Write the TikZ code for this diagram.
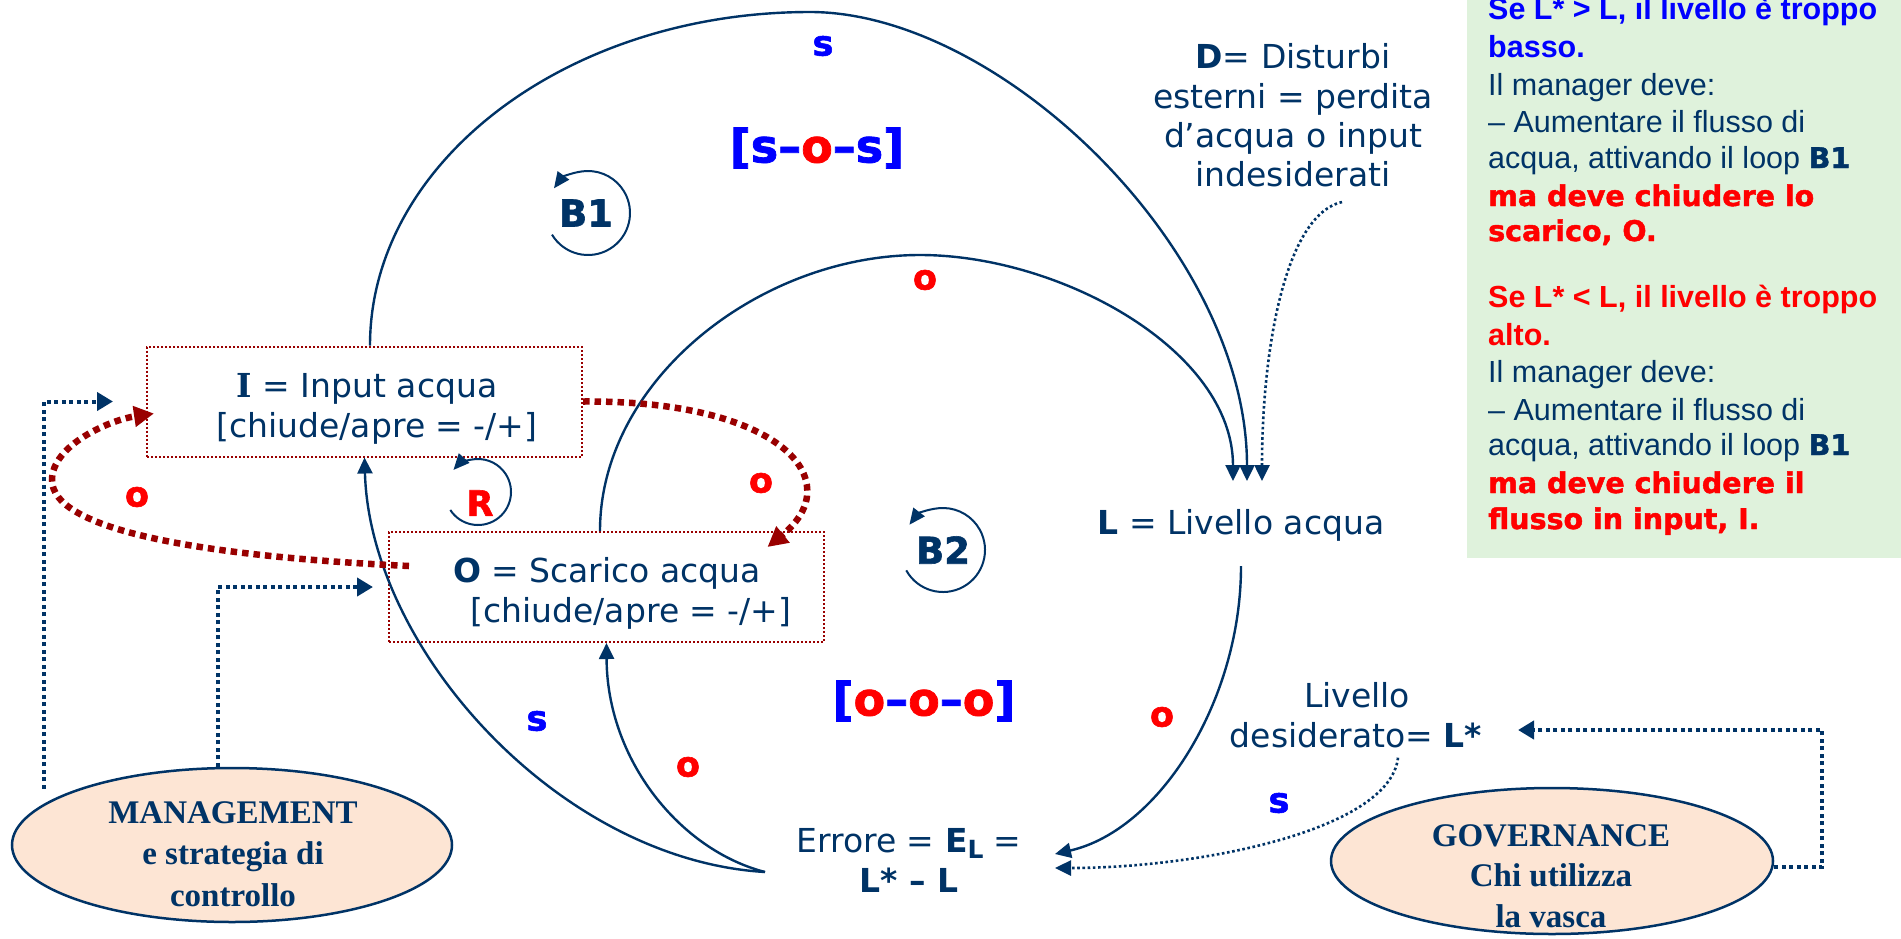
\documentclass[tikz,border=0pt]{standalone}
\usepackage{fontspec}
\setmainfont{DejaVu Sans}
\newfontfamily\dvsans{DejaVu Sans}
\newfontfamily\blackf{DejaVu Sans}[FakeBold=1.6]
\newfontfamily\arialf{Liberation Sans}
\newfontfamily\timesf{Liberation Serif}
\newfontfamily\dvserif{DejaVu Serif}
\usetikzlibrary{arrows.meta,shapes.geometric,calc}
\definecolor{navy}{HTML}{003366}
\definecolor{ored}{HTML}{FF0000}
\definecolor{sblue}{HTML}{0000FF}
\definecolor{dred}{HTML}{990000}
\definecolor{gbg}{HTML}{DFF2DC}
\definecolor{peach}{HTML}{FDE5D4}
\begin{document}
\begin{tikzpicture}[x=1pt,y=-1pt,
  verd/.style={font=\fontsize{33}{40}\selectfont, text=navy, inner sep=0pt, anchor=base},
  lab/.style={font=\blackf\bfseries\fontsize{35}{40}\selectfont, inner sep=0pt},
  slab/.style={lab, text=sblue},
  olab/.style={lab, text=ored},
  looplab/.style={font=\blackf\bfseries\fontsize{37}{40}\selectfont, text=navy, inner sep=0pt},
  chain/.style={font=\blackf\bfseries\fontsize{46}{50}\selectfont, inner sep=0pt},
  vbox/.style={draw=dred, line width=2pt, dash pattern=on 2pt off 2pt, minimum width=435pt, minimum height=110pt, inner sep=0pt},
  conn/.style={draw=navy, line width=2.4pt, -{Triangle[length=16pt,width=15pt]}},
  loopa/.style={draw=navy, line width=2pt, -{Triangle[length=16pt,width=14pt]}},
  navydot/.style={draw=navy, line width=4pt, dash pattern=on 4pt off 3.5pt, -{Triangle[length=16pt,width=18pt]}},
  thindot/.style={draw=navy, line width=2.6pt, dash pattern=on 2.6pt off 2.6pt, -{Triangle[length=16pt,width=15pt]}},
  reddot/.style={draw=dred, line width=6.5pt, dash pattern=on 6.5pt off 5pt, -{Triangle[length=20pt,width=20pt]}},
  ell/.style={ellipse, draw=navy, line width=2.5pt, fill=peach, inner sep=0pt},
  etext/.style={font=\timesf\bfseries\fontsize{33}{38}\selectfont, text=navy, inner sep=0pt, anchor=base},
  gtext/.style={font=\arialf\fontsize{30.5}{36}\selectfont, text=navy, inner sep=0pt, anchor=base west},
  ghead/.style={gtext, font=\arialf\bfseries\fontsize{30.5}{36}\selectfont},
  gheavy/.style={gtext, font=\blackf\bfseries\fontsize{28.5}{36}\selectfont, text=ored},
]
\useasboundingbox (0,0) rectangle (1901,938);
\fill[white] (0,0) rectangle (1901,938);

% green note box
\node[fill=gbg, minimum width=434pt, minimum height=558pt, anchor=north west, inner sep=0pt] (GB) at (1467,0) {};
\node[ghead, text=sblue] (g1) at (1488,19) {Se L* > L, il livello è troppo};
\node[ghead, text=sblue] (g2) at (1488,57) {basso.};
\node[gtext] (g3) at (1488,95) {Il manager deve:};
\node[gtext] (g4) at (1488,132) {– Aumentare il flusso di};
\node[gtext] (g5) at (1488,168) {acqua, attivando il loop {\blackf\bfseries\fontsize{28.5}{36}\selectfont B1}};
\node[gheavy] (g6) at (1488,206) {ma deve chiudere lo};
\node[gheavy] (g7) at (1488,241) {scarico, O.};
\node[ghead, text=ored] (g8) at (1488,307) {Se L* < L, il livello è troppo};
\node[ghead, text=ored] (g9) at (1488,345) {alto.};
\node[gtext] (g10) at (1488,382) {Il manager deve:};
\node[gtext] (g11) at (1488,420) {– Aumentare il flusso di};
\node[gtext] (g12) at (1488,455) {acqua, attivando il loop {\blackf\bfseries\fontsize{28.5}{36}\selectfont B1}};
\node[gheavy] (g13) at (1488,493) {ma deve chiudere il};
\node[gheavy] (g14) at (1488,529) {flusso in input, I.};

% boxes
\node[vbox] (I) at (364.5,401.5) {};
\node[verd] (I1) at (367,397) {{\dvserif\bfseries I} = Input acqua};
\node[verd] (I2) at (377,437) {[chiude/apre = -/+]};
\node[vbox] (O) at (606.5,587) {};
\node[verd] (O1) at (607,582) {\textbf{O} = Scarico acqua};
\node[verd] (O2) at (631,622) {[chiude/apre = -/+]};

% other texts
\node[verd] (L) at (1241,534) {\textbf{L} = Livello acqua};
\node[verd] (D1) at (1293,68) {\textbf{D}= Disturbi};
\node[verd] (D2) at (1293,108) {esterni = perdita};
\node[verd] (D3) at (1293,147) {d’acqua o input};
\node[verd] (D4) at (1293,186) {indesiderati};
\node[verd] (Lv) at (1357,707) {Livello};
\node[verd] (Ld) at (1356,747) {desiderato= \textbf{L*}};
\node[verd] (E1) at (909,852) {Errore = \textbf{E}\raisebox{-6pt}{\fontsize{25}{25}\selectfont\bfseries L} =};
\node[verd] (E2) at (909,892) {\textbf{L* – L}};

% ellipses
\node[ell, minimum width=440pt, minimum height=154pt] (M) at (232,845) {};
\node[etext] (M1) at (233,823) {MANAGEMENT};
\node[etext] (M2) at (233,864) {e strategia di};
\node[etext] (M3) at (233,906) {controllo};
\node[ell, minimum width=442pt, minimum height=146pt] (Gv) at (1552,861) {};
\node[etext] (G1) at (1551,846) {GOVERNANCE};
\node[etext] (G2) at (1551,886) {Chi utilizza};
\node[etext] (G3) at (1551,927) {la vasca};

% labels
\node[slab] (s1) at (823,46) {s};
\node[olab] (o1) at (925,280) {o};
\node[slab] (s2) at (537,721) {s};
\node[olab] (o2) at (688,767) {o};
\node[olab] (o3) at (1162,717) {o};
\node[slab] (s3) at (1279,803) {s};
\node[olab] (o4) at (137,497) {o};
\node[olab] (o5) at (761,483) {o};
\node[chain] (sos) at (817,148) {\textcolor{sblue}{[s–}\textcolor{ored}{o}\textcolor{sblue}{–s]}};
\node[chain] (ooo) at (924,701) {\textcolor{sblue}{[}\textcolor{ored}{o}\textcolor{sblue}{–}\textcolor{ored}{o}\textcolor{sblue}{–}\textcolor{ored}{o}\textcolor{sblue}{]}};

% loops
\node[looplab] (B1) at (586,213) {B1};
\node[looplab] (B2) at (943,550) {B2};
\node[lab, text=ored] (R) at (480,503) {R};
\draw[loopa] ([shift={(2,0)}]B1.center) ++(149:42) arc[start angle=149, end angle=-144, radius=42];
\draw[loopa] (B2.center) ++(151:42) arc[start angle=151, end angle=-143, radius=42];
\draw[loopa] ([shift={(-2,-11)}]R.center) ++(147:33) arc[start angle=147, end angle=-138, radius=33];

% coordinates for arrow ends
\coordinate (Lt1) at (1233,481);
\coordinate (Lt2) at (1247,481);
\coordinate (Lt3) at (1262,481);
\coordinate (Ein1) at (1055,854);
\coordinate (Ein2) at (1055,868);
\coordinate (Eout) at (765,872);
\coordinate (Dst) at (1342,202);
\coordinate (Ldin) at (1518,730);

% solid connectors
\draw[conn] ([xshift=5.5pt]I.north) .. controls (370,162) and (567,12) .. (810,12)
            .. controls (1000,12) and (1247,250) .. (Lt2);
\draw[conn] ([xshift=-6.5pt]O.north) .. controls (600,380) and (760,255) .. (920,255)
            .. controls (1060,255) and (1233,350) .. (Lt1);
\draw[thindot] (Dst) .. controls (1285,215) and (1262,350) .. (Lt3);
\draw[conn] ([yshift=-25pt]L.south) .. controls (1241,700) and (1160,830) .. (Ein1);
\draw[thindot] ([xshift=42pt,yshift=-10pt]Ld.south) .. controls (1390,830) and (1200,868) .. (Ein2);
\draw[conn] (Eout) .. controls (560,860) and (370,650) .. (I.south);
\draw[conn] (Eout) .. controls (680,850) and (607,760) .. (O.south);

% red dotted
\draw[reddot] ([xshift=21pt,yshift=21pt]O.west) .. controls (200,556) and (52,530) .. (52,480)
              .. controls (52,445) and (110,420) .. ([xshift=8pt,yshift=-12pt]I.west);
\draw[reddot] (I.east) .. controls (780,400) and (850,480) .. ([xshift=161pt,yshift=-16pt]O.north);

% management / governance dotted
\draw[navydot] ([xshift=-188pt,yshift=-22pt]M.north) |- ([xshift=-33pt]I.west);
\draw[navydot] ([xshift=-14pt]M.north) |- ([xshift=-15pt]O.west);
\draw[navydot] ([yshift=-6pt]Gv.east) -- ++(48,0) |- (Ldin);
\end{tikzpicture}
\end{document}
